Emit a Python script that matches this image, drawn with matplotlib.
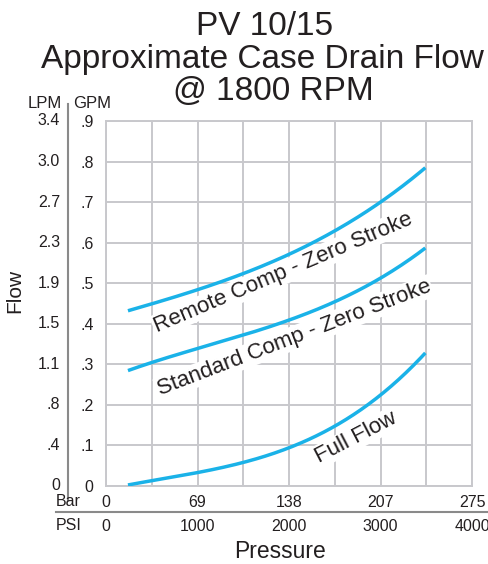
import numpy as np
import matplotlib.pyplot as plt

plt.rcParams['font.family'] = ['Liberation Sans', 'DejaVu Sans']

# data (pressure in PSI, flow in GPM)
psi_points = [240, 500, 1000, 1500, 2000, 2500, 3000, 3490]
remote_gpm = [0.432, 0.449, 0.484, 0.525, 0.570, 0.628, 0.702, 0.784]
standard_gpm = [0.286, 0.303, 0.337, 0.375, 0.410, 0.452, 0.513, 0.587]
full_gpm = [0.004, 0.012, 0.031, 0.058, 0.098, 0.148, 0.220, 0.330]

gpm_ticks = [0, .1, .2, .3, .4, .5, .6, .7, .8, .9]
gpm_labels = ['0', '.1', '.2', '.3', '.4', '.5', '.6', '.7', '.8', '.9']
lpm_labels = ['0', '.4', '.8', '1.1', '1.5', '1.9', '2.3', '2.7', '3.0', '3.4']
psi_ticks = [0, 1000, 2000, 3000, 4000]
bar_labels = ['0', '69', '138', '207', '275']
title_lines = ['PV 10/15', 'Approximate Case Drain Flow', '@ 1800 RPM']

curve_color = '#1ab2e8'
grid_color = '#c8c8cc'
text_color = '#231f20'
tick_fs = 11.5

W, H = 488, 564
fig = plt.figure(figsize=(W / 100, H / 100), dpi=100)
ax = fig.add_axes([106 / W, 1 - 486 / H, 366 / W, 365 / H])


def smooth(x, y):
    # cubic fit through the read points for a clean curve
    xs = np.linspace(x[0], x[-1], 200)
    c = np.polyfit(x, y, 3)
    return xs, np.polyval(c, xs)


for ys in (remote_gpm, standard_gpm, full_gpm):
    xs, yv = smooth(psi_points, ys)
    ax.plot(xs, yv, color=curve_color, lw=2.5, solid_capstyle='butt', zorder=3)

ax.set_xlim(0, 4000)
ax.set_ylim(0, 0.9)
ax.set_xticks(np.arange(0, 4001, 500))
ax.set_yticks(gpm_ticks)
ax.grid(True, color=grid_color, lw=1.4)
for s in ax.spines.values():
    s.set_color(grid_color)
    s.set_linewidth(1.4)
ax.tick_params(length=0, labelcolor=text_color)
ax.set_yticklabels(gpm_labels, fontsize=tick_fs)
ax.tick_params(axis='y', pad=9)
ax.set_xticklabels([])

# LPM column
ytr = ax.get_yaxis_transform()
for v, lab in zip(gpm_ticks, lpm_labels):
    ax.text(-0.126, v, lab, transform=ytr, ha='right', va='center',
            fontsize=tick_fs, color=text_color, clip_on=False)

# Bar / PSI rows
xtr = ax.get_xaxis_transform()
for v, b in zip(psi_ticks, bar_labels):
    ax.text(v, -0.044, b, transform=xtr, ha='center', va='center',
            fontsize=tick_fs, color=text_color, clip_on=False)
for v in psi_ticks:
    ax.text(v, -0.112, str(v), transform=xtr, ha='center', va='center',
            fontsize=tick_fs, color=text_color, clip_on=False)

# curve labels
lbl = dict(ha='center', va='center', fontsize=16, color=text_color, zorder=4,
           bbox=dict(facecolor='white', edgecolor='none', pad=1))
ax.text(1935, 0.526, 'Remote Comp - Zero Stroke', rotation=23, **lbl)
ax.text(2054, 0.365, 'Standard Comp - Zero Stroke', rotation=21, **lbl)
ax.text(2728, 0.119, 'Full Flow', rotation=27.5, **lbl)

# figure-level labels and separators
fig.text(45 / W, 1 - 103 / H, 'LPM', ha='center', va='center', fontsize=12, color=text_color)
fig.text(92 / W, 1 - 103 / H, 'GPM', ha='center', va='center', fontsize=12, color=text_color)
fig.add_artist(plt.Line2D([68 / W, 68 / W], [1 - 104 / H, 1 - 500 / H], color='#8a8a8a', lw=1.5))
fig.text(15 / W, 1 - 291 / H, 'Flow', rotation=90, ha='center', va='center', fontsize=15, color=text_color)
fig.text(56 / W, 1 - 502 / H, 'Bar', ha='left', va='center', fontsize=tick_fs, color=text_color)
fig.text(56 / W, 1 - 525 / H, 'PSI', ha='left', va='center', fontsize=tick_fs, color=text_color)
fig.add_artist(plt.Line2D([56 / W, 1.0], [1 - 512 / H, 1 - 512 / H], color='#8a8a8a', lw=1.5))
fig.text(280 / W, 1 - 551 / H, 'Pressure', ha='center', va='center', fontsize=16.5, color=text_color)

for line, cx, base in zip(title_lines, [265, 262, 273], [35, 68, 100]):
    fig.text(cx / W, 1 - base / H, line, ha='center', va='baseline',
             fontsize=24, color=text_color)

fig.savefig('out.png', dpi=100)
